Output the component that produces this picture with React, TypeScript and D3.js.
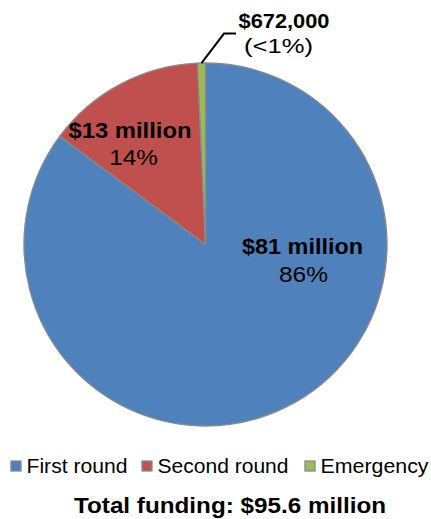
import React from "react";
import * as d3 from "d3";

const categories = ["First round", "Second round", "Emergency"];
const values = [81.43, 13.5, 0.672];
const amountLabels = ["$81 million", "$13 million", "$672,000"];
const percentLabels = ["86%", "14%", "(<1%)"];
const colors = ["#4F81BD", "#C0504D", "#9BBB59"];
const totalLabel = "Total funding: $95.6 million";

const W = 431;
const H = 519;
const FONT = "'Liberation Sans', Arial, sans-serif";

export default function App() {
  const cx = 205.5;
  const cy = 244.5;
  const r = 181.5;
  const pie = d3.pie<number>().sort(null).value((d) => d);
  const arcs = pie(values);
  const arc = d3.arc<d3.PieArcDatum<number>>().innerRadius(0).outerRadius(r);

  // leader line for the small slice
  const emerg = arcs[2];
  const midA = (emerg.startAngle + emerg.endAngle) / 2;
  const p0x = cx + Math.sin(midA) * r;
  const p0y = cy - Math.cos(midA) * r;

  const legendX = [11, 142, 305];
  const legendLen = [101, 131, 108];

  return (
    <svg
      width={W}
      height={H}
      style={{ position: "absolute", left: 0, top: 0, background: "#fff" }}
      fontFamily={FONT}
    >
      <g transform={`translate(${cx},${cy})`}>
        {arcs.map((a, i) => (
          <path key={i} d={arc(a)!} fill={colors[i]} stroke="#8a8a8a" strokeWidth={1.3} />
        ))}
      </g>
      <polyline
        points={`${p0x},${p0y} ${p0x + 22.5},${p0y - 29.5} ${p0x + 34.5},${p0y - 29.5}`}
        fill="none"
        stroke="#000"
        strokeWidth={2}
      />
      {/* First round label */}
      <text x={cx + 97} y={cy + 9.5} textAnchor="middle" fontSize={22.5} fontWeight="bold"
        textLength={121} lengthAdjust="spacingAndGlyphs">
        {amountLabels[0]}
      </text>
      <text x={cx + 98} y={cy + 37} textAnchor="middle" fontSize={22}
        textLength={49} lengthAdjust="spacingAndGlyphs">
        {percentLabels[0]}
      </text>
      {/* Second round label */}
      <text x={cx - 75.5} y={138.3} textAnchor="middle" fontSize={22.5} fontWeight="bold"
        textLength={123} lengthAdjust="spacingAndGlyphs">
        {amountLabels[1]}
      </text>
      <text x={cx - 72} y={165} textAnchor="middle" fontSize={22}
        textLength={48.5} lengthAdjust="spacingAndGlyphs">
        {percentLabels[1]}
      </text>
      {/* Emergency label */}
      <text x={284} y={27.5} textAnchor="middle" fontSize={19.5} fontWeight="bold"
        textLength={91} lengthAdjust="spacingAndGlyphs">
        {amountLabels[2]}
      </text>
      <text x={278.5} y={53} textAnchor="middle" fontSize={19.5}
        textLength={69} lengthAdjust="spacingAndGlyphs">
        {percentLabels[2]}
      </text>
      {/* Legend */}
      {categories.map((c, i) => (
        <g key={i}>
          <rect x={legendX[i]} y={461} width={10} height={10} fill={colors[i]} stroke="#8a8a8a" strokeWidth={1.3} />
          <text x={legendX[i] + 15.5} y={473} fontSize={20.5}
            textLength={legendLen[i]} lengthAdjust="spacingAndGlyphs">
            {c}
          </text>
        </g>
      ))}
      <text x={230} y={513} textAnchor="middle" fontSize={22.5} fontWeight="bold"
        textLength={312} lengthAdjust="spacingAndGlyphs">
        {totalLabel}
      </text>
    </svg>
  );
}
